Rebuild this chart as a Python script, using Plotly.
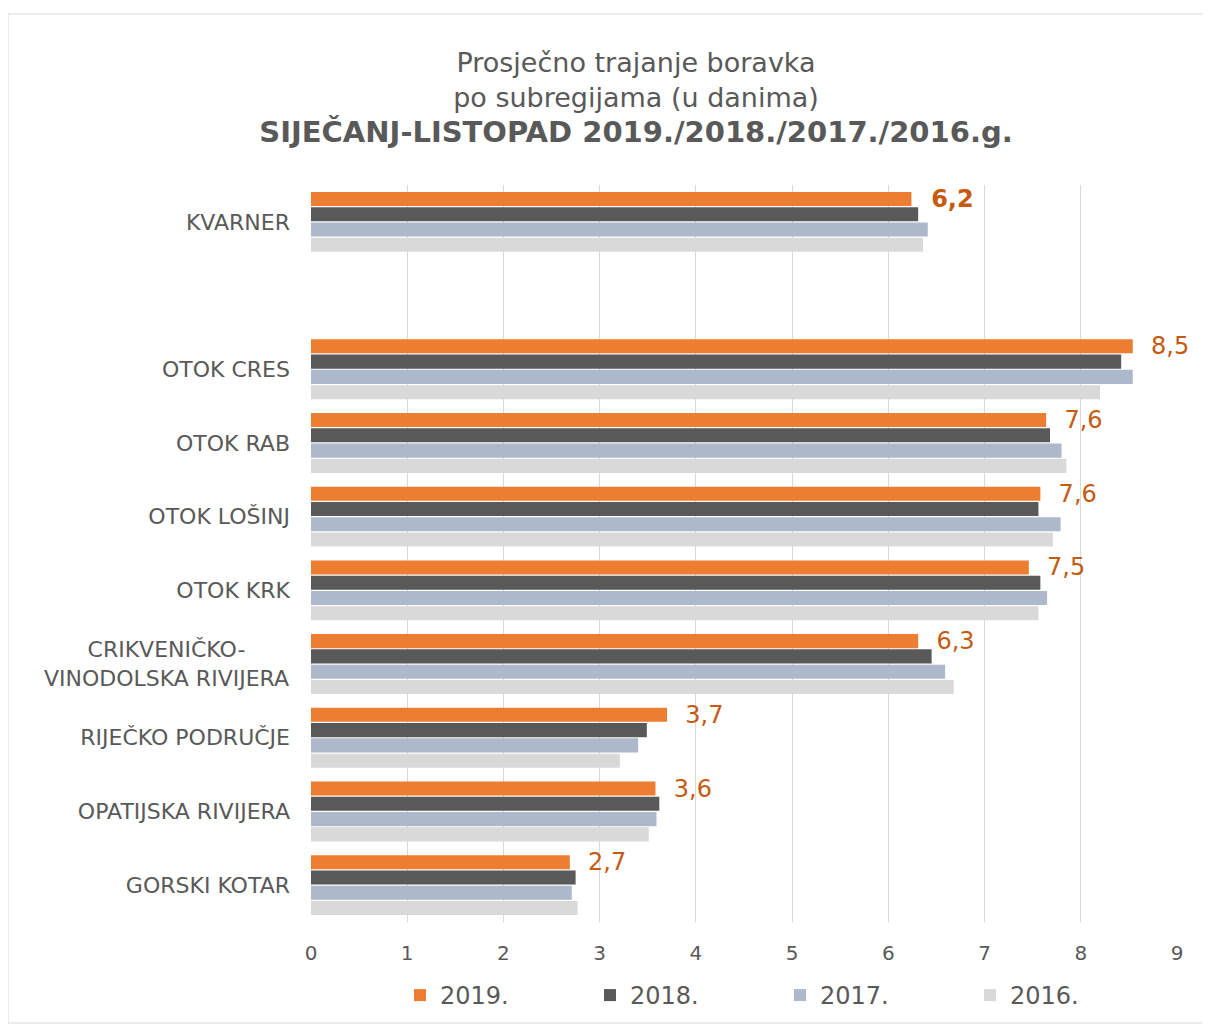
import plotly.graph_objects as go

categories = ["KVARNER", " ", "OTOK CRES", "OTOK RAB", "OTOK LOŠINJ", "OTOK KRK",
              "CRIKVENIČKO-<br>VINODOLSKA RIVIJERA", "RIJEČKO PODRUČJE",
              "OPATIJSKA RIVIJERA", "GORSKI KOTAR"]
v2019 = [6.24, None, 8.54, 7.64, 7.58, 7.46, 6.31, 3.70, 3.58, 2.69]
v2018 = [6.31, None, 8.42, 7.68, 7.56, 7.58, 6.45, 3.49, 3.62, 2.75]
v2017 = [6.41, None, 8.54, 7.80, 7.79, 7.65, 6.59, 3.40, 3.59, 2.71]
v2016 = [6.36, None, 8.20, 7.85, 7.71, 7.56, 6.68, 3.21, 3.51, 2.77]
series = [("2019.", v2019, "#ED7D31"), ("2018.", v2018, "#595959"),
          ("2017.", v2017, "#ADB9CA"), ("2016.", v2016, "#D9D9D9")]
x_ticks = [0, 1, 2, 3, 4, 5, 6, 7, 8, 9]

FONT = "DejaVu Sans"
GREY = "#595959"

def lab(v, i):
    if v is None:
        return ""
    s = "\u00a0\u00a0" + f"{v:.1f}".replace(".", ",")
    return f"<b>{s}</b>" if i == 0 else s

fig = go.Figure()
for name, vals, col in series:
    kw = {}
    if name == "2019.":
        kw = dict(text=[lab(v, i) for i, v in enumerate(vals)], textposition="outside",
                  constraintext="none",
                  textfont=dict(color="#C55A11", size=24, family=FONT), cliponaxis=False)
    fig.add_trace(go.Bar(y=categories, x=vals, name=name, orientation="h",
                         marker=dict(color=col, line=dict(width=0)), **kw))

W, H = 1202, 1017
ml, mr, mt, mb = 303, 33, 177, 103
pw, ph = W - ml - mr, H - mt - mb

# multi-line category labels are drawn as centred annotations
tick_text = ["" if "<br>" in c else c for c in categories]
for c in categories:
    if "<br>" in c:
        fig.add_annotation(text=c, xref="paper", yref="y", x=-20 / pw, y=c,
                           xanchor="right", yanchor="middle", align="center",
                           showarrow=False, font=dict(size=22, color=GREY, family=FONT))

fig.update_layout(
    width=W, height=H, barmode="group", bargap=0.17, bargroupgap=0.08,
    margin=dict(l=ml, r=mr, t=mt, b=mb, autoexpand=False),
    paper_bgcolor="white", plot_bgcolor="white",
    font=dict(family=FONT, color=GREY, size=18),
    title=dict(text="Prosječno trajanje boravka<br>po subregijama (u danima)<br>"
                    "<span style='font-size:29px'><b>SIJEČANJ-LISTOPAD 2019./2018./2017./2016.g.</b></span>",
               x=(636 - 8) / W, xanchor="center", y=1 - 64 / H, yanchor="top",
               font=dict(size=27, color=GREY, family=FONT)),
    xaxis=dict(range=[0, 9], tickvals=x_ticks, showgrid=True, gridcolor="#D9D9D9",
               gridwidth=1, zeroline=False, showline=False, ticks="",
               tickfont=dict(size=20, color=GREY), ticklabelstandoff=17),
    yaxis=dict(autorange="reversed", showgrid=False, ticks="", showline=False,
               tickmode="array", tickvals=categories, ticktext=tick_text,
               tickfont=dict(size=22, color=GREY), ticklabelstandoff=20),
    legend=dict(orientation="h", x=89 / pw, y=-(965 - (mt + ph)) / ph,
                xanchor="left", yanchor="top", entrywidth=145, entrywidthmode="pixels",
                font=dict(size=24, color=GREY), itemwidth=30, traceorder="normal"),
    showlegend=True,
)
fig.add_shape(type="rect", xref="paper", yref="paper",
              x0=(0 - ml) / pw, x1=(1210 - ml) / pw,
              y0=-(1015 - (mt + ph)) / ph, y1=1 + (mt - 6) / ph,
              line=dict(color="#D9D9D9", width=1), layer="below")
fig.write_html("out.html")
